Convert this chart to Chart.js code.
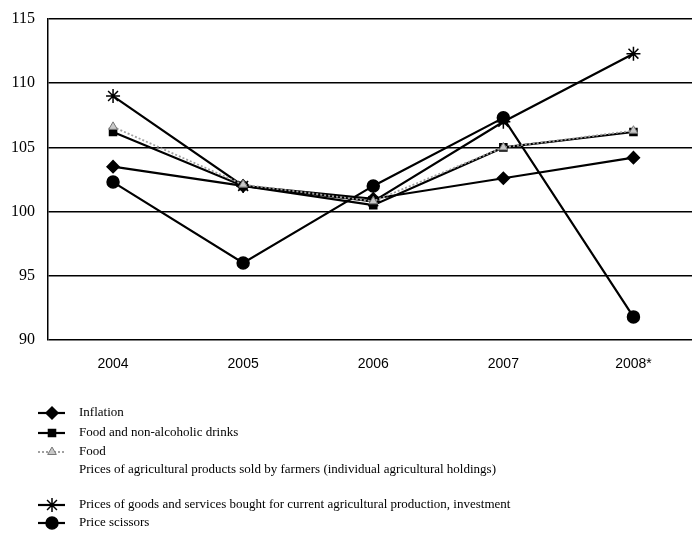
<!DOCTYPE html>
<html>
<head>
<meta charset="utf-8">
<script src="https://cdn.jsdelivr.net/npm/chart.js@4.4.1/dist/chart.umd.min.js"></script>
<style>
  html, body { margin:0; padding:0; background:#fff; overflow:hidden; }
  #wrap { width:707px; height:533px; }
  canvas { display:block; }
</style>
</head>
<body>
<div id="wrap"><canvas id="c" width="707" height="533"></canvas></div>
<script>
// values
const years = ['2004', '2005', '2006', '2007', '2008*'];
const inflation     = [103.5, 102.0, 101.0, 102.6, 104.2];
const foodDrinks    = [106.2, 102.0, 100.5, 105.0, 106.2];
const food          = [106.6, 102.1, 100.8, 105.0, 106.3];
const farmPrices    = [null, null, null, null, null];
const boughtPrices  = [109.0, 102.0, 100.8, 107.0, 112.3];
const priceScissors = [102.3, 96.0, 102.0, 107.3, 91.8];

const labels = [
  'Inflation',
  'Food and non-alcoholic drinks',
  'Food',
  'Prices of agricultural products sold by farmers (individual agricultural holdings)',
  'Prices of goods and services bought for current agricultural production, investment',
  'Price scissors'
];

const blackLine = (label, data, style, r) => ({
  label, data,
  borderColor:'#000', backgroundColor:'#000', borderWidth:2.2,
  pointStyle:style, pointRadius:r, pointBorderWidth:1.5,
  pointBackgroundColor:'#000', pointBorderColor:'#000', order:1
});

const datasets = [
  blackLine(labels[0], inflation, 'rectRot', 6),
  blackLine(labels[1], foodDrinks, 'rect', 5),
  { label:labels[2], data:food, borderColor:'#a0a0a0', backgroundColor:'#b0b0b0',
    borderWidth:1.8, borderDash:[2,2], pointStyle:'triangle', pointRadius:5,
    pointBackgroundColor:'#c8c8c8', pointBorderColor:'#777', pointBorderWidth:1, order:-1 },
  { label:labels[3], data:farmPrices, borderColor:'rgba(0,0,0,0)', pointRadius:0, order:2 },
  blackLine(labels[4], boughtPrices, 'star', 7),
  blackLine(labels[5], priceScissors, 'circle', 6)
];

// legend drawn under the plot, one row per series
const legendRows = [413, 433, 452, 470, 505, 523];
const legendPlugin = {
  id:'sideLegend',
  afterDraw(chart){
    const ctx = chart.ctx;
    ctx.save();
    chart.data.datasets.forEach((ds, i) => {
      const y = legendRows[i];
      if (ds.pointRadius > 0) {
        ctx.strokeStyle = ds.borderColor;
        ctx.lineWidth = ds.borderWidth;
        ctx.setLineDash(ds.borderDash || []);
        ctx.beginPath(); ctx.moveTo(38, y); ctx.lineTo(65, y); ctx.stroke();
        ctx.setLineDash([]);
        ctx.fillStyle = ds.pointBackgroundColor;
        ctx.strokeStyle = ds.pointBorderColor;
        ctx.lineWidth = ds.pointBorderWidth;
        Chart.helpers.drawPoint(ctx, { pointStyle:ds.pointStyle, radius:ds.pointRadius, rotation:0, borderWidth:ds.pointBorderWidth }, 52, y);
      }
      ctx.fillStyle = '#000';
      ctx.font = '13px "Liberation Serif", "Times New Roman", serif';
      ctx.textBaseline = 'middle';
      ctx.fillText(ds.label, 79, y);
    });
    ctx.restore();
  }
};

new Chart(document.getElementById('c'), {
  type:'line',
  data:{ labels:years, datasets },
  options:{
    responsive:false,
    animation:false,
    layout:{ padding:{ top:19, right:2, bottom:153, left:0 } },
    plugins:{ legend:{ display:false }, tooltip:{ enabled:false } },
    elements:{ line:{ tension:0 } },
    scales:{
      x:{
        offset:true,
        grid:{ display:false },
        border:{ display:false },
        ticks:{ color:'#000', padding:8, maxRotation:0,
                font:{ family:'"Liberation Sans", Arial, sans-serif', size:14 } },
        afterFit(s){ s.height = 40; s.paddingLeft = 0; s.paddingRight = 0; }
      },
      y:{
        min:90, max:115,
        ticks:{ stepSize:5, color:'#000', padding:13,
                font:{ family:'"Liberation Serif", "Times New Roman", serif', size:16 } },
        grid:{ color:'#000', lineWidth:1.5, drawTicks:false },
        border:{ display:true, color:'#000', width:1.5 },
        afterFit(s){ s.width = 48; s.paddingTop = 0; s.paddingBottom = 0; }
      }
    }
  },
  plugins:[legendPlugin]
});
</script>
</body>
</html>
